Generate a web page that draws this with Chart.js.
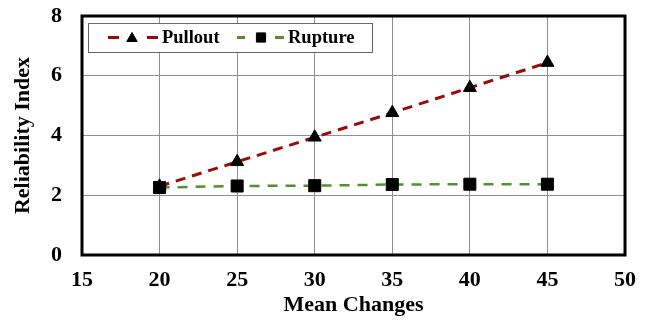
<!DOCTYPE html>
<html>
<head>
    <title>Reliability Index vs Mean Changes</title>
    <style>
        body { margin: 0; background: #ffffff; }
        #chart-container { width: 650px; height: 323px; }
    </style>
    <script src="https://cdn.jsdelivr.net/npm/chart.js"></script>
</head>
<body>
    <div id="chart-container">
        <canvas id="reliabilityChart"></canvas>
    </div>
    <script>
        // data
        const meanChanges = [20, 25, 30, 35, 40, 45];
        const pulloutValues = [2.3, 3.12, 3.94, 4.76, 5.6, 6.44];
        const ruptureValues = [2.26, 2.31, 2.32, 2.36, 2.37, 2.37];
        const xTicks = [15, 20, 25, 30, 35, 40, 45, 50];
        const yTicks = [0, 2, 4, 6, 8];

        const pulloutColor = '#9b0a0a';
        const ruptureColor = '#548f30';
        const serif = '"Liberation Serif", "Times New Roman", serif';

        // thick frame round the plot plus the boxed legend in the top left corner
        const framePlugin = {
            id: 'frameAndLegend',
            afterDraw(chart) {
                const ctx = chart.ctx;
                const a = chart.chartArea;
                ctx.save();
                ctx.strokeStyle = '#000';
                ctx.lineWidth = 3;
                ctx.strokeRect(a.left, a.top, a.right - a.left, a.bottom - a.top);

                // legend box
                const bx = a.left + 6, by = a.top + 7, bw = 284, bh = 29;
                ctx.fillStyle = '#fff';
                ctx.fillRect(bx, by, bw, bh);
                ctx.lineWidth = 1;
                ctx.strokeStyle = '#666';
                ctx.strokeRect(bx + 0.5, by + 0.5, bw, bh);

                const cy = by + bh / 2;
                const items = [
                    { label: 'Pullout', color: pulloutColor, style: 'triangle', radius: 6,
                      dashes: [[20, 31], [59, 70]], marker: 44, text: 74 },
                    { label: 'Rupture', color: ruptureColor, style: 'rect', radius: 6.5,
                      dashes: [[149, 157], [187, 196]], marker: 173, text: 200 }
                ];
                items.forEach(item => {
                    ctx.strokeStyle = item.color;
                    ctx.lineWidth = 3;
                    item.dashes.forEach(d => {
                        ctx.beginPath();
                        ctx.moveTo(bx + d[0], cy);
                        ctx.lineTo(bx + d[1], cy);
                        ctx.stroke();
                    });
                    ctx.fillStyle = '#000';
                    ctx.strokeStyle = '#000';
                    ctx.lineWidth = 1;
                    Chart.helpers.drawPoint(ctx, {
                        pointStyle: item.style,
                        radius: item.radius,
                        borderWidth: 1
                    }, bx + item.marker, cy + (item.style === 'triangle' ? 1 : 0));
                    ctx.font = 'bold 18.5px ' + serif;
                    ctx.textAlign = 'left';
                    ctx.textBaseline = 'middle';
                    ctx.fillText(item.label, bx + item.text, cy + 1);
                });
                ctx.restore();
            }
        };

        const ctx = document.getElementById('reliabilityChart').getContext('2d');
        new Chart(ctx, {
            type: 'scatter',
            data: {
                datasets: [{
                    label: 'Pullout',
                    data: meanChanges.map((x, i) => ({ x: x, y: pulloutValues[i] })),
                    order: 1,
                    showLine: true,
                    borderColor: pulloutColor,
                    borderWidth: 3,
                    borderDash: [10, 7],
                    pointStyle: 'triangle',
                    pointRadius: 7.5,
                    pointBackgroundColor: '#000',
                    pointBorderColor: '#000',
                    pointBorderWidth: 1
                }, {
                    label: 'Rupture',
                    data: meanChanges.map((x, i) => ({ x: x, y: ruptureValues[i] })),
                    order: 0,
                    showLine: true,
                    borderColor: ruptureColor,
                    borderWidth: 2.5,
                    borderDash: [10, 8],
                    pointStyle: 'rect',
                    pointRadius: 8.5,
                    pointBackgroundColor: '#000',
                    pointBorderColor: '#000',
                    pointBorderWidth: 1
                }]
            },
            options: {
                responsive: true,
                maintainAspectRatio: false,
                animation: false,
                layout: { padding: { top: 16, right: 25, left: 6, bottom: 0 } },
                plugins: {
                    legend: { display: false },
                    tooltip: { enabled: false }
                },
                scales: {
                    x: {
                        type: 'linear',
                        min: 15,
                        max: 50,
                        afterBuildTicks: scale => { scale.ticks = xTicks.map(v => ({ value: v })); },
                        afterFit: scale => {
                            scale.height = 68;
                            scale.paddingLeft = 0;
                            scale.paddingRight = 0;
                        },
                        grid: { color: '#8f8f8f', lineWidth: 1, drawTicks: false },
                        border: { display: false },
                        ticks: { color: '#000', font: { family: serif, size: 22, weight: 'bold' }, padding: 12 },
                        title: {
                            display: true,
                            text: 'Mean Changes',
                            color: '#000',
                            font: { family: serif, size: 22, weight: 'bold' },
                            padding: { top: 0, bottom: 4 }
                        }
                    },
                    y: {
                        min: 0,
                        max: 8,
                        afterBuildTicks: scale => { scale.ticks = yTicks.map(v => ({ value: v })); },
                        afterFit: scale => {
                            scale.width = 76;
                            scale.paddingTop = 0;
                            scale.paddingBottom = 0;
                        },
                        grid: { color: '#8f8f8f', lineWidth: 1, drawTicks: false },
                        border: { display: false },
                        ticks: { color: '#000', font: { family: serif, size: 22, weight: 'bold' }, padding: 20 },
                        title: {
                            display: true,
                            text: 'Reliability Index',
                            color: '#000',
                            font: { family: serif, size: 22, weight: 'bold' },
                            padding: { top: 4, bottom: 0 }
                        }
                    }
                }
            },
            plugins: [framePlugin]
        });
    </script>
</body>
</html>
